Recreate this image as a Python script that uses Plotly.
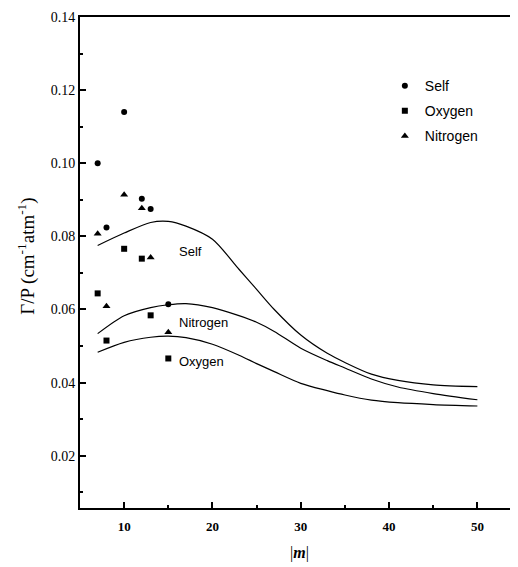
import plotly.graph_objects as go

# measured points
self_m = [7, 8, 10, 12, 13, 15]
self_v = [0.100, 0.0824, 0.114, 0.0903, 0.0875, 0.0614]
oxy_m = [7, 8, 10, 12, 13, 15]
oxy_v = [0.0644, 0.0515, 0.0766, 0.0739, 0.0584, 0.0466]
nit_m = [7, 8, 10, 12, 13, 15]
nit_v = [0.0807, 0.0609, 0.0914, 0.0877, 0.0742, 0.0538]

# calculated curves
curve_m = [7, 10, 13, 15, 17, 20, 23, 25, 27, 30, 33, 35, 38, 41, 45, 50]
self_c = [0.0775, 0.0809, 0.0838, 0.0841, 0.0828, 0.0792, 0.0710, 0.0655, 0.0600,
          0.0530, 0.0480, 0.0455, 0.0423, 0.0406, 0.0394, 0.0389]
nit_c = [0.0534, 0.0583, 0.0605, 0.0613, 0.0616, 0.0605, 0.0583, 0.0565, 0.0540,
         0.0494, 0.0460, 0.0440, 0.0410, 0.0388, 0.0370, 0.0353]
oxy_c = [0.0483, 0.0510, 0.0524, 0.0527, 0.0523, 0.0505, 0.0475, 0.0452, 0.0430,
         0.0398, 0.0378, 0.0366, 0.0352, 0.0345, 0.0340, 0.0336]

curve_labels = ["Self", "Nitrogen", "Oxygen"]
label_pos = [(16.0, 0.0758), (16.0, 0.0564), (16.0, 0.0458)]

x_ticks = [10, 20, 30, 40, 50]
y_ticks = [0.02, 0.04, 0.06, 0.08, 0.10, 0.12, 0.14]

fig = go.Figure()
for c in [self_c, nit_c, oxy_c]:
    fig.add_trace(go.Scatter(x=curve_m, y=c, mode="lines", showlegend=False,
                             line=dict(color="black", width=1.2, shape="spline", smoothing=0.8)))

fig.add_trace(go.Scatter(x=self_m, y=self_v, mode="markers", name="Self", legendgroup="a",
                         marker=dict(symbol="circle", size=6, color="black")))
fig.add_trace(go.Scatter(x=oxy_m, y=oxy_v, mode="markers", name="Oxygen", legendgroup="b",
                         marker=dict(symbol="square", size=6, color="black")))
fig.add_trace(go.Scatter(x=nit_m, y=nit_v, mode="markers", name="Nitrogen", legendgroup="c",
                         marker=dict(symbol="triangle-up", size=7, color="black")))

for lab, (xx, yy) in zip(curve_labels, label_pos):
    fig.add_annotation(x=xx, y=yy, text=lab, showarrow=False, xanchor="left",
                       font=dict(family="Liberation Sans, Arial", size=13, color="black"))

# axis titles
fig.add_annotation(x=0.5, y=-0.069, xref="paper", yref="paper", yanchor="top",
                   text="|<b><i>m</i></b>|", showarrow=False,
                   font=dict(family="Liberation Serif", size=16, color="black"))
fig.add_annotation(x=-0.124, y=0.513, xref="paper", yref="paper", textangle=-90,
                   xanchor="center", yanchor="middle",
                   text="Γ/P (cm<sup>-1</sup>atm<sup>-1</sup>)", showarrow=False,
                   font=dict(family="Liberation Serif", size=19, color="black"))

# page body has an 8px margin: shrink the figure to compensate
fig.update_layout(
    width=510, height=555,
    margin=dict(l=72, r=0, t=9, b=55),
    paper_bgcolor="white", plot_bgcolor="white",
    font=dict(family="Liberation Serif, Times New Roman", color="black"),
    legend=dict(x=0.696, y=0.892, xanchor="left", yanchor="top",
                font=dict(family="Liberation Sans, Arial", size=14, color="black"),
                bgcolor="rgba(0,0,0,0)", itemwidth=30, tracegroupgap=4),
    xaxis=dict(range=[5, 54.6], tickvals=x_ticks, ticktext=[f"<b>{v}</b>" for v in x_ticks],
               ticks="inside", ticklen=6, tickwidth=1.5, tickcolor="black",
               minor=dict(dtick=5, ticks="inside", ticklen=3, tickcolor="black"),
               showline=True, linecolor="black", linewidth=2, mirror=True,
               showgrid=False, zeroline=False, automargin=False,
               ticklabelstandoff=5,
               tickfont=dict(family="Liberation Serif", size=13)),
    yaxis=dict(range=[0.0057, 0.14], tickvals=y_ticks,
               ticktext=[f"{v:.2f}" for v in y_ticks],
               ticks="inside", ticklen=6, tickwidth=1.5, tickcolor="black",
               minor=dict(dtick=0.01, ticks="inside", ticklen=3, tickcolor="black"),
               showline=True, linecolor="black", linewidth=2,
               showgrid=False, zeroline=False, automargin=False,
               tickfont=dict(family="Liberation Serif", size=14)),
)

fig.write_html("out.html")
